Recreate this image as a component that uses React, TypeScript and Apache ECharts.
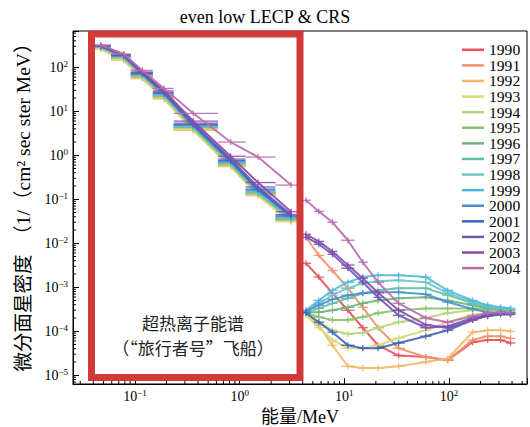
import React, { useEffect, useRef } from 'react';
import * as echarts from 'echarts';

const YEARS = ['1990','1991','1992','1993','1994','1995','1996','1997','1998','1999','2000','2001','2002','2003','2004'];
const COLORS = ['#e8505a','#f0906e','#f2b866','#d6d978','#b2d67a','#88c46a','#6cb47a','#62c0a0','#6ec6c6','#50b8dc','#4a90d0','#3c64b8','#6858b8','#8c48a8','#b86cb0'];

// LECP energies (MeV) and bin edges
const LECP_E = [0.047, 0.078, 0.118, 0.19, 0.36, 0.82, 1.5, 3.1];
const LECP_LO = [0.038, 0.059, 0.091, 0.148, 0.234, 0.62, 1.14, 2.2];
const LECP_HI = [0.059, 0.091, 0.148, 0.234, 0.62, 1.14, 2.2, 3.8];
// CRS energies (MeV) and bin edges
const CRS_E = [4.3, 5.7, 7.7, 10.8, 15, 21, 33, 60, 97, 168, 234, 311, 387];
const CRS_LO = [3.9, 5.1, 6.9, 9.3, 13.5, 19, 29, 53, 86, 150, 210, 280, 350];
const CRS_HI = [4.8, 6.4, 8.6, 12.5, 16.8, 24, 38, 68, 110, 188, 260, 345, 430];

const LECP_FLUX: number[][] = [
  [270, 150, 58, 20, 3.9, 0.58, 0.13, 0.033],
  [275, 155, 60, 21, 4.0, 0.60, 0.13, 0.034],
  [260, 145, 55, 19, 3.7, 0.55, 0.12, 0.031],
  [265, 150, 57, 20, 3.8, 0.57, 0.125, 0.032],
  [280, 160, 62, 21.5, 4.1, 0.62, 0.135, 0.034],
  [285, 165, 64, 22, 4.3, 0.64, 0.14, 0.035],
  [290, 168, 65, 22.5, 4.3, 0.65, 0.14, 0.036],
  [290, 170, 66, 23, 4.4, 0.66, 0.145, 0.036],
  [295, 172, 67, 23, 4.5, 0.67, 0.145, 0.037],
  [295, 175, 68, 24, 4.6, 0.68, 0.15, 0.038],
  [300, 180, 70, 25, 4.8, 0.72, 0.16, 0.040],
  [305, 185, 72, 26, 5.0, 0.76, 0.17, 0.042],
  [310, 190, 75, 27, 5.4, 0.82, 0.19, 0.045],
  [315, 195, 78, 29, 6.0, 0.95, 0.24, 0.052],
  [320, 200, 85, 33, 9.0, 2.0, 0.91, 0.21],
];

const CRS_FLUX: number[][] = [
  [3.5e-3, 1.7e-3, 7.3e-4, 3e-4, 1.2e-4, 4.8e-5, 2.8e-5, 2.6e-5, 2.2e-5, 5.6e-5, 6.3e-5, 6.3e-5, 5.4e-5],
  [1.37e-2, 5.3e-3, 2.4e-3, 9.5e-4, 3.5e-4, 1.2e-4, 4.1e-5, 2.6e-5, 2.2e-5, 6.3e-5, 7.7e-5, 7.7e-5, 6.9e-5],
  [2.6e-4, 1.37e-4, 4.8e-5, 1.6e-5, 1.45e-5, 1.45e-5, 1.6e-5, 2e-5, 2.4e-5, 9.5e-5, 1.05e-4, 1.05e-4, 1e-4],
  [2.3e-4, 1.2e-4, 6.3e-5, 4.1e-5, 4.1e-5, 4.8e-5, 7e-5, 1.05e-4, 1.6e-4, 2.4e-4, 2.6e-4, 2.6e-4, 2.4e-4],
  [2.6e-4, 1.6e-4, 1.05e-4, 8.7e-5, 9.2e-5, 1.2e-4, 1.6e-4, 2e-4, 2.6e-4, 3e-4, 3e-4, 3e-4, 2.9e-4],
  [2.6e-4, 2.1e-4, 1.8e-4, 1.8e-4, 2.1e-4, 2.6e-4, 3e-4, 3.3e-4, 3.3e-4, 3.3e-4, 3.2e-4, 3e-4, 2.9e-4],
  [2.7e-4, 2.7e-4, 3e-4, 3.5e-4, 4.3e-4, 5e-4, 5.6e-4, 5.9e-4, 5e-4, 3.9e-4, 3.3e-4, 3.2e-4, 3e-4],
  [2.7e-4, 3.3e-4, 4.3e-4, 5.6e-4, 7.3e-4, 8.5e-4, 9.5e-4, 9.5e-4, 6.6e-4, 4.3e-4, 3.5e-4, 3.2e-4, 3e-4],
  [2.85e-4, 4.3e-4, 6.6e-4, 9.5e-4, 1.23e-3, 1.37e-3, 1.44e-3, 1.3e-3, 7.3e-4, 4.6e-4, 3.7e-4, 3.3e-4, 3.2e-4],
  [3e-4, 5e-4, 8.5e-4, 1.3e-3, 1.7e-3, 1.87e-3, 1.87e-3, 1.7e-3, 8.5e-4, 5e-4, 3.9e-4, 3.5e-4, 3.3e-4],
  [2.85e-4, 3.9e-4, 5.3e-4, 6.6e-4, 7.3e-4, 7.7e-4, 7.7e-4, 6.9e-4, 4.6e-4, 3.2e-4, 2.7e-4, 2.6e-4, 2.6e-4],
  [2.6e-4, 1.6e-4, 9.5e-5, 4.8e-5, 4.1e-5, 4.1e-5, 5.4e-5, 7.7e-5, 1.05e-4, 1.8e-4, 2.2e-4, 2.4e-4, 2.4e-4],
  [1.37e-2, 9.5e-3, 5.6e-3, 2.7e-3, 1.3e-3, 5.9e-4, 2.3e-4, 1.2e-4, 1.3e-4, 2e-4, 2.4e-4, 2.7e-4, 2.6e-4],
  [1.6e-2, 1.1e-2, 6.5e-3, 3.2e-3, 1.6e-3, 7.5e-4, 3e-4, 1.4e-4, 1.2e-4, 1.8e-4, 2.3e-4, 2.6e-4, 2.6e-4],
  [9.5e-2, 5.3e-2, 3e-2, 1.17e-2, 3.7e-3, 1.3e-3, 4.3e-4, 2e-4, 1.6e-4, 2.2e-4, 2.6e-4, 2.7e-4, 2.6e-4],
];

const X_MINOR = [0.03,0.04,0.05,0.06,0.07,0.08,0.09,0.2,0.3,0.4,0.5,0.6,0.7,0.8,0.9,2,3,4,5,6,7,8,9,20,30,40,50,60,70,80,90,200,300,400,500];
const Y_MINOR: number[] = [7e-6,8e-6,9e-6];
[-5,-4,-3,-2,-1,0,1,2].forEach((n) => { for (let k = 2; k <= 9; k++) { const v = k * Math.pow(10, n); if (v < 660) Y_MINOR.push(v); } });

const TITLE = 'even low LECP & CRS';
const X_NAME = '能量/MeV';
const Y_NAME = '微分面星密度  （1/（cm² sec ster MeV）';
const NOTE1 = '超热离子能谱';
const NOTE2 = '（“旅行者号”飞船）';

const SERIF = '"Liberation Serif", "Times New Roman", "Noto Sans CJK SC", serif';

export default function App() {
  const ref = useRef<HTMLDivElement>(null);
  useEffect(() => {
    document.body.style.margin = '0';
    const chart = echarts.init(ref.current!, null, { renderer: 'svg' });
    const fmt = (v: number) => {
      const l = Math.log10(v);
      const r = Math.round(l);
      if (Math.abs(l - r) > 1e-6) return '';
      const exp = r < 0 ? '−' + (-r) : String(r);
      return '{b|10}{s|' + exp + '}';
    };
    const rich = {
      b: { fontFamily: SERIF, fontSize: 14, color: '#000', lineHeight: 16 },
      s: { fontFamily: SERIF, fontSize: 9, color: '#000', verticalAlign: 'top', lineHeight: 10 },
    };
    const series: any[] = [];
    YEARS.forEach((y, i) => {
      const pts: any[] = LECP_E.map((e, j) => [e, LECP_FLUX[i][j]]);
      pts.push('-');
      CRS_E.forEach((e, j) => pts.push([e, CRS_FLUX[i][j]]));
      series.push({
        name: y, type: 'line', data: pts, symbol: 'none', connectNulls: false,
        lineStyle: { color: COLORS[i], width: 2, opacity: 0.9 },
        itemStyle: { color: COLORS[i] }, z: 2 + i * 0.01,
      });
      const bars: number[][] = [];
      LECP_E.forEach((e, j) => bars.push([e, LECP_LO[j], LECP_HI[j], LECP_FLUX[i][j]]));
      CRS_E.forEach((e, j) => bars.push([e, CRS_LO[j], CRS_HI[j], CRS_FLUX[i][j]]));
      const col = COLORS[i];
      series.push({
        name: y, type: 'custom', data: bars, silent: true,
        encode: { x: 0, y: 3 }, itemStyle: { color: col }, z: 2 + i * 0.01,
        renderItem: (params: any, api: any) => {
          const e = api.value(0), lo = api.value(1), hi = api.value(2), f = api.value(3);
          const a = api.coord([lo, f]), b = api.coord([hi, f]), c = api.coord([e, f]);
          return {
            type: 'group', children: [
              { type: 'line', shape: { x1: a[0], y1: a[1], x2: b[0], y2: b[1] }, style: { stroke: col, lineWidth: 1.3, opacity: 0.9 } },
              { type: 'line', shape: { x1: c[0], y1: c[1] - 3, x2: c[0], y2: c[1] + 3 }, style: { stroke: col, lineWidth: 1.3, opacity: 0.9 } },
            ],
          };
        },
      });
    });
    series.push({
      type: 'custom', silent: true, data: X_MINOR.map((v) => [v, 1]), encode: { x: 0, y: 1 },
      renderItem: (params: any, api: any) => {
        const cs = params.coordSys; const p = api.coord([api.value(0), 1]);
        const yb = cs.y + cs.height;
        return { type: 'line', shape: { x1: p[0], y1: yb, x2: p[0], y2: yb - 3 }, style: { stroke: '#000', lineWidth: 1 } };
      },
    });
    series.push({
      type: 'custom', silent: true, data: Y_MINOR.map((v) => [1, v]), encode: { x: 0, y: 1 },
      renderItem: (params: any, api: any) => {
        const cs = params.coordSys; const p = api.coord([1, api.value(1)]);
        return { type: 'line', shape: { x1: cs.x, y1: p[1], x2: cs.x + 3, y2: p[1] }, style: { stroke: '#000', lineWidth: 1 } };
      },
    });
    chart.setOption({
      animation: false,
      title: { text: TITLE, left: 'center', top: 3, textStyle: { fontFamily: SERIF, fontSize: 18, fontWeight: 'normal', color: '#000' } },
      legend: {
        data: YEARS, orient: 'vertical', left: 457, top: 37, icon: 'rect', itemWidth: 22, itemHeight: 2.5, itemGap: 0,
        textStyle: { fontFamily: SERIF, fontSize: 15.6, color: '#000' },
      },
      grid: { left: 73, right: 3, top: 31, bottom: 43, show: true, borderColor: '#000', borderWidth: 1, containLabel: false, outerBoundsMode: 'none' },
      xAxis: {
        type: 'log', logBase: 10, min: Math.pow(10, -1.592), max: Math.pow(10, 2.745),
        axisLine: { show: true, lineStyle: { color: '#000', width: 1 } },
        axisTick: { show: true, inside: true, length: 6, lineStyle: { color: '#000' } },
        axisLabel: { formatter: fmt, rich, margin: 4 },
        splitLine: { show: false }, minorTick: { show: false },
        name: X_NAME, nameLocation: 'middle', nameGap: 24,
        nameTextStyle: { fontFamily: SERIF, fontSize: 18, color: '#000' },
      },
      yAxis: {
        type: 'log', logBase: 10, min: Math.pow(10, -5.2), max: Math.pow(10, 2.825),
        axisLine: { show: true, lineStyle: { color: '#000', width: 1 } },
        axisTick: { show: true, inside: true, length: 6, lineStyle: { color: '#000' } },
        axisLabel: { formatter: fmt, rich, margin: 5 },
        splitLine: { show: false }, minorTick: { show: false },
        name: Y_NAME, nameLocation: 'middle', nameGap: 39,
        nameTextStyle: { fontFamily: SERIF, fontSize: 19.5, color: '#000', padding: [0, 0, 0, 10] },
      },
      graphic: [
        { type: 'rect', z: 100, shape: { x: 91.5, y: 34, width: 208.5, height: 343.5 }, style: { fill: 'none', stroke: '#d2393b', lineWidth: 7 } },
        { type: 'text', z: 100, x: 193, y: 322, style: { text: NOTE1, fontFamily: '"Noto Sans CJK SC", sans-serif', fontSize: 17, fill: '#222', align: 'center', verticalAlign: 'middle' } },
        { type: 'text', z: 100, x: 193, y: 347, style: { text: NOTE2, fontFamily: '"Noto Sans CJK SC", sans-serif', fontSize: 17, fill: '#222', align: 'center', verticalAlign: 'middle' } },
      ],
      series,
    });
    return () => chart.dispose();
  }, []);
  return <div ref={ref} style={{ width: 530, height: 427 }} />;
}
